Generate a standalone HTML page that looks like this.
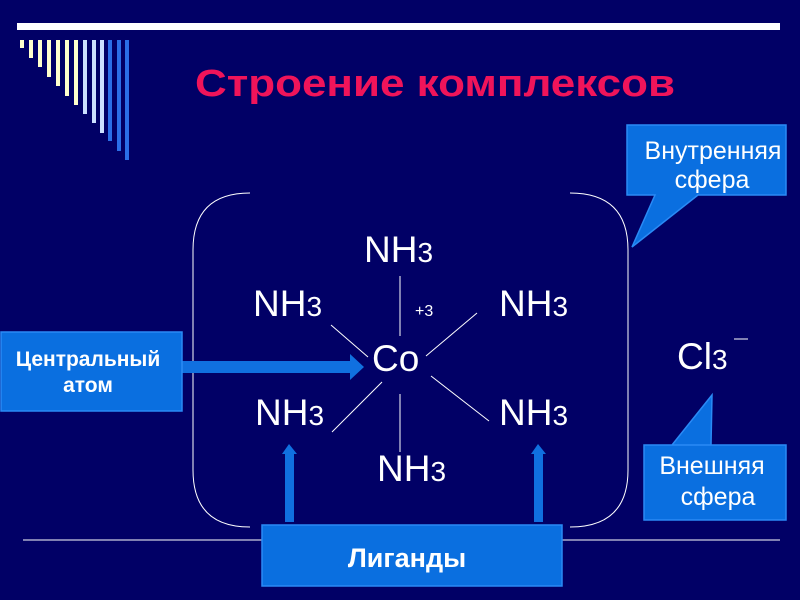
<!DOCTYPE html>
<html><head><meta charset="utf-8"><style>
html,body{margin:0;padding:0;background:#010066;}
svg{display:block}
text{font-family:"Liberation Sans",sans-serif;fill:#fff}
</style></head><body>
<svg width="800" height="600" viewBox="0 0 800 600" xmlns="http://www.w3.org/2000/svg">
<rect width="800" height="600" fill="#010066"/>
<rect x="17" y="23" width="763" height="7" fill="#fff"/>
<g>
<rect x="20" y="40" width="4" height="8" fill="#ffffcc"/>
<rect x="29" y="40" width="4" height="18" fill="#ffffcc"/>
<rect x="38" y="40" width="4" height="27" fill="#ffffcc"/>
<rect x="47" y="40" width="4" height="37" fill="#ffffcc"/>
<rect x="56" y="40" width="4" height="46" fill="#ffffcc"/>
<rect x="65" y="40" width="4" height="56" fill="#ffffcc"/>
<rect x="74" y="40" width="4" height="65" fill="#ffffcc"/>
<rect x="83" y="40" width="4" height="74" fill="#cce0ff"/>
<rect x="92" y="40" width="4" height="83" fill="#cce0ff"/>
<rect x="100" y="40" width="4" height="93" fill="#cce0ff"/>
<rect x="108" y="40" width="4" height="101" fill="#2a6fe8"/>
<rect x="117" y="40" width="4" height="111" fill="#2a6fe8"/>
<rect x="125" y="40" width="4" height="120" fill="#2a6fe8"/>
</g>
<text x="195" y="96" font-size="38" font-weight="bold" textLength="480" lengthAdjust="spacingAndGlyphs" style="fill:#f0145a">Строение комплексов</text>

<path d="M250 193 Q193 193 193 250 L193 470 Q193 527 250 527" fill="none" stroke="#fff" stroke-width="1"/>
<path d="M570 193 Q628 193 628 250 L628 470 Q628 527 570 527" fill="none" stroke="#fff" stroke-width="1"/>

<line x1="23" y1="540" x2="780" y2="540" stroke="#fff" stroke-width="1"/>

<g stroke="#fff" stroke-width="1">
<line x1="400" y1="276" x2="400" y2="336"/>
<line x1="400" y1="394" x2="400" y2="452"/>
<line x1="331" y1="325" x2="368" y2="357"/>
<line x1="477" y1="313" x2="426" y2="356"/>
<line x1="332" y1="432" x2="382" y2="382"/>
<line x1="431" y1="376" x2="489" y2="421"/>
</g>

<g font-size="37">
<text x="364" y="262">NH<tspan font-size="28">3</tspan></text>
<text x="253" y="316">NH<tspan font-size="28">3</tspan></text>
<text x="499" y="316">NH<tspan font-size="28">3</tspan></text>
<text x="255" y="425">NH<tspan font-size="28">3</tspan></text>
<text x="499" y="425">NH<tspan font-size="28">3</tspan></text>
<text x="377" y="481">NH<tspan font-size="28">3</tspan></text>
<text x="372" y="371">Co</text>
<text x="677" y="369">Cl<tspan font-size="28">3</tspan></text>
</g>
<text x="415" y="316" font-size="16">+3</text>
<line x1="734" y1="339" x2="748" y2="339" stroke="#fff" stroke-width="1"/>

<g fill="#1070e0">
<rect x="182" y="361" width="170" height="12"/>
<polygon points="350,354 364,367 350,380"/>
<rect x="285" y="452" width="9" height="70"/>
<polygon points="282,454 289,444 297,454"/>
<rect x="534" y="452" width="9" height="70"/>
<polygon points="531,454 538,444 546,454"/>
</g>

<g fill="#0a6fe0" stroke="#2a8af5" stroke-width="1.5">
<rect x="1" y="332" width="181" height="79"/>
<rect x="262" y="525" width="300" height="61"/>
<path d="M627 125 L786 125 L786 195 L698 195 L632 247 L655 195 L627 195 Z"/>
<path d="M644 445 L786 445 L786 520 L644 520 L644 445 L672 445 L712 395 L711 445 Z"/>
</g>
<rect x="645" y="446" width="140" height="73" fill="#0a6fe0"/>
<text x="88" y="366" font-size="21" font-weight="bold" text-anchor="middle">Центральный</text>
<text x="88" y="392" font-size="21" font-weight="bold" text-anchor="middle">атом</text>
<text x="407" y="567" font-size="27" font-weight="bold" text-anchor="middle">Лиганды</text>
<text x="713" y="159" font-size="25" text-anchor="middle">Внутренняя</text>
<text x="712" y="188" font-size="25" text-anchor="middle">сфера</text>
<text x="712" y="474" font-size="25" text-anchor="middle">Внешняя</text>
<text x="718" y="505" font-size="25" text-anchor="middle">сфера</text>
</svg>
</body></html>
